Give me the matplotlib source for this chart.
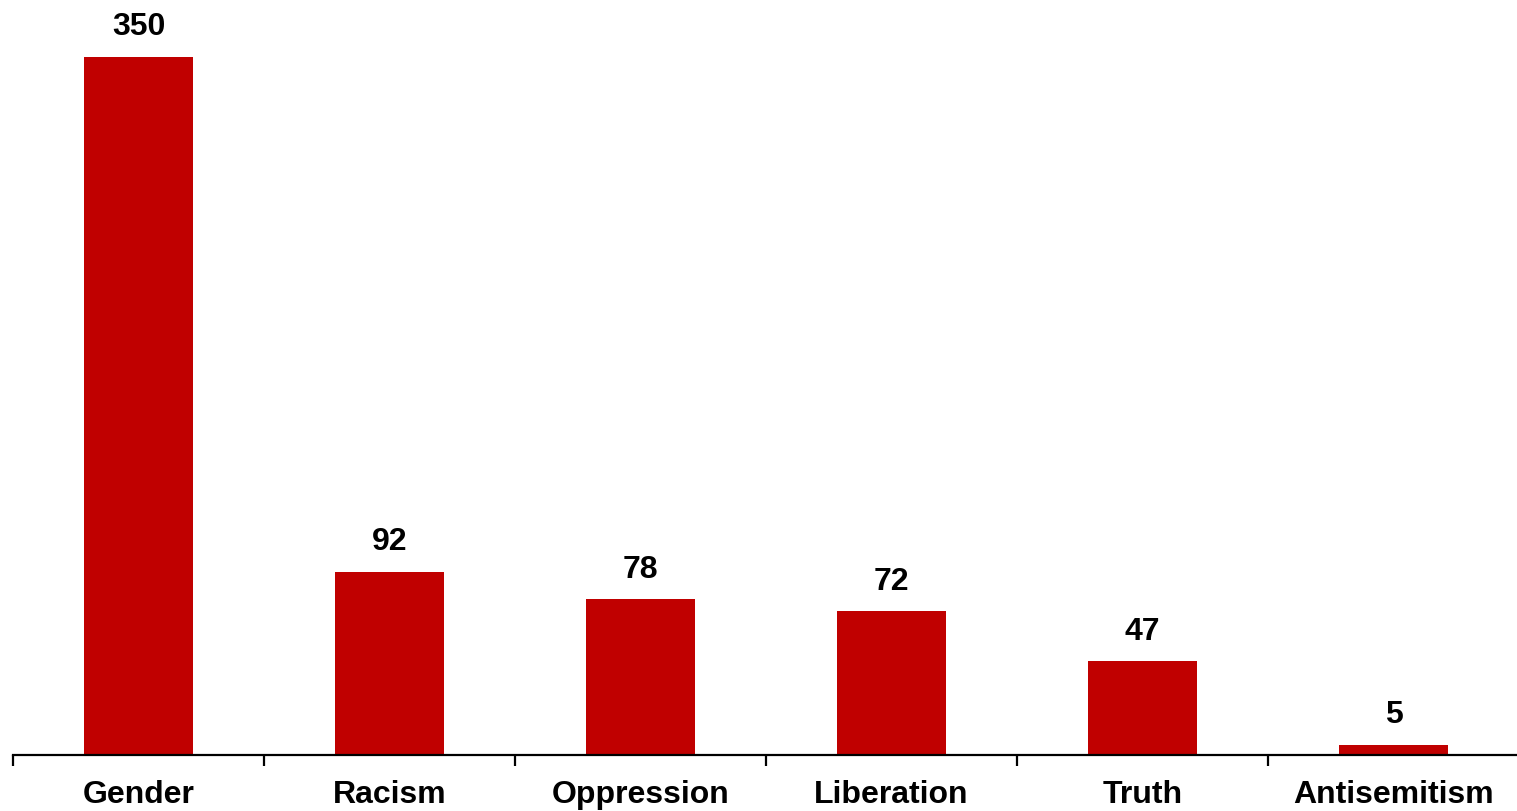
import matplotlib
matplotlib.use("Agg")
import matplotlib.pyplot as plt

categories = ["Gender", "Racism", "Oppression", "Liberation", "Truth", "Antisemitism"]
values = [350, 92, 78, 72, 47, 5]

plt.rcParams['font.family'] = ['Liberation Sans', 'DejaVu Sans']

W, H = 1517, 811
fig = plt.figure(figsize=(W/100, H/100), dpi=100)
bottom_px = 755
ymax = 370
scale = (755 - 57) / 350.0
top_px = bottom_px - ymax * scale
ax = fig.add_axes([13/W, (H - bottom_px)/H, (1519 - 13)/W, (bottom_px - top_px)/H])

x = list(range(len(categories)))
bars = ax.bar(x, values, width=0.435, color="#C00000")
ax.set_xlim(-0.5, len(categories) - 0.5)
ax.set_ylim(0, ymax)

for xi, v in zip(x, values):
    ax.annotate(str(v), (xi, v), xytext=(0, 10.5), textcoords="offset points",
                ha="center", va="bottom", fontsize=23, fontweight="bold")

for s in ["top", "right", "left"]:
    ax.spines[s].set_visible(False)
ax.spines["bottom"].set_linewidth(1.6)
ax.set_yticks([])
ax.set_xticks([i - 0.5 for i in range(len(categories) + 1)], minor=False)
ax.set_xticks(x, minor=True)
ax.set_xticklabels([""] * (len(categories) + 1))
ax.set_xticklabels(categories, minor=True)
ax.tick_params(axis="x", which="major", length=8, width=1.6, direction="out")
ax.tick_params(axis="x", which="minor", length=0, pad=18, labelsize=23)
for lbl in ax.get_xticklabels(minor=True):
    lbl.set_fontweight("bold")

fig.savefig("out.png", dpi=100)
